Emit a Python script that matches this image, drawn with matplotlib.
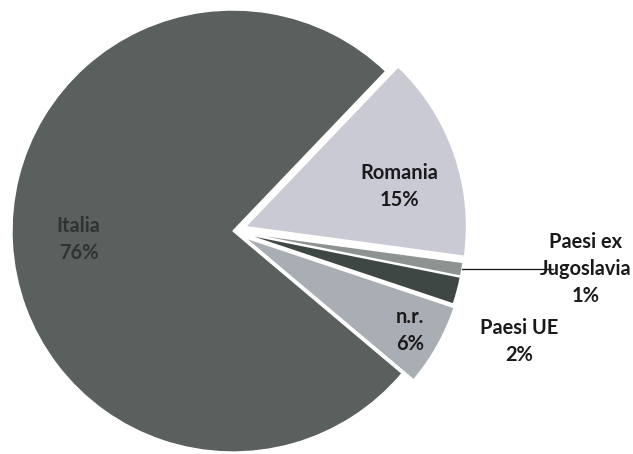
import matplotlib.pyplot as plt
import numpy as np

# provenienza (%)
labels = ['Italia', 'Romania', 'Paesi ex\nJugoslavia', 'Paesi UE', 'n.r.']
values = [76, 15, 1, 2, 6]
colors = ['#5a605e', '#c9cad4', '#8c9391', '#3f4745', '#a9aeb5']
explode = [0, 0.06, 0.05, 0.05, 0.06]

FONT = 'Lato'


def main():
    fig = plt.figure(figsize=(6.33, 4.54), dpi=100)
    ax = fig.add_axes([0, 0, 1, 1])
    start = 46.3 + 3.6 * values[0]
    wedges, _ = ax.pie(values, colors=colors, explode=explode, startangle=start,
                       counterclock=False, radius=1,
                       wedgeprops=dict(edgecolor='white', linewidth=1.0))
    ax.set_aspect('auto')
    ax.set_xlim(-233 / 221, 400 / 221)
    ax.set_ylim(-223 / 221, 231 / 221)
    ax.axis('off')

    def mid(w):
        return np.deg2rad((w.theta1 + w.theta2) / 2)

    txt = dict(ha='center', va='center', fontfamily=FONT, fontweight='bold',
               linespacing=1.45, fontsize=14.4)

    # (slice, distance, angle shift in degrees)
    place = [(0, 0.70, 0), (1, 0.72, -4.6), (4, 0.86, 0), (3, 1.34, -6.5)]
    for i, r, da in place:
        w = wedges[i]
        e = explode[i]
        a = mid(w)
        b = a + np.deg2rad(da)
        col = '#2e3333' if i == 0 else '#1a1a1a'
        ax.text(e * np.cos(a) + r * np.cos(b), e * np.sin(a) + r * np.sin(b),
                f'{labels[i]}\n{values[i]}%', color=col, **txt)

    # Paesi ex Jugoslavia, with leader line
    w = wedges[2]
    a = mid(w)
    x0, y0 = (1.0 + explode[2]) * np.cos(a), (1.0 + explode[2]) * np.sin(a)
    ax.plot([x0, 1.45], [y0, y0], color='#111111', linewidth=0.9)
    ax.text(1.595, y0, f'{labels[2]}\n{values[2]}%', color='#1a1a1a', **txt)

    fig.savefig('out.png', dpi=100, facecolor='white')


if __name__ == '__main__':
    main()
